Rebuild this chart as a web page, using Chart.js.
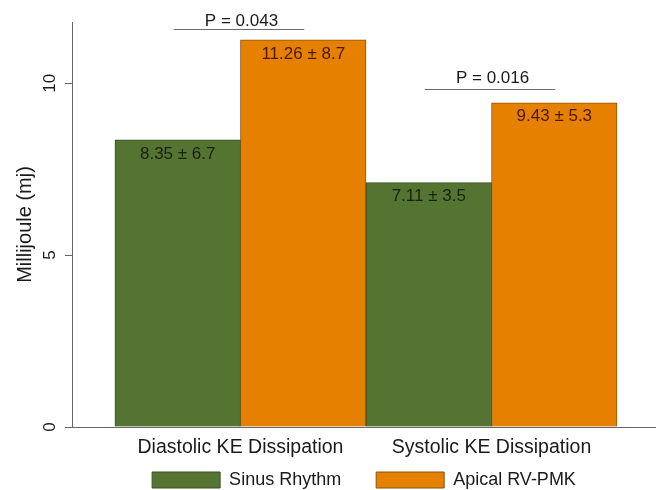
<!DOCTYPE html>
<html>
<head>
<meta charset="utf-8">
<script src="https://cdn.jsdelivr.net/npm/chart.js@4/dist/chart.umd.min.js"></script>
<style>
  html, body { margin: 0; padding: 0; background: #fff; overflow: hidden; }
  #wrap { width: 656px; height: 490px; }
</style>
</head>
<body>
<div id="wrap"><canvas id="c" width="656" height="490"></canvas></div>
<script>
// Kinetic energy dissipation by rhythm group (mean ± SD)
const categories = ['Diastolic KE Dissipation', 'Systolic KE Dissipation'];
const seriesNames = ['Sinus Rhythm', 'Apical RV-PMK'];
const sinusMean = [8.35, 7.11];
const sinusSD = [6.7, 3.5];
const pmkMean = [11.26, 9.43];
const pmkSD = [8.7, 5.3];
const pValues = ['0.043', '0.016'];
const yTicks = [0, 5, 10];

const FONT = "'Liberation Sans', Arial, Helvetica, sans-serif";
Chart.defaults.font.family = FONT;
Chart.defaults.color = '#1a1a1a';

const toPoints = (vals) => vals.map((v, i) => ({ x: i, y: v }));
const valueText = (means, sds) => means.map((m, i) => m.toFixed(2) + ' \u00b1 ' + sds[i].toFixed(1));
const barLabels = [valueText(sinusMean, sinusSD), valueText(pmkMean, pmkSD)];

// Mean ± SD inside each bar, and the P-value bracket over each pair
const annotate = {
  id: 'annotate',
  afterDatasetsDraw(chart, args, opts) {
    const ctx = chart.ctx;
    const metas = [chart.getDatasetMeta(0), chart.getDatasetMeta(1)];
    ctx.save();
    ctx.textAlign = 'center';
    ctx.textBaseline = 'middle';
    ctx.font = '17px ' + FONT;
    metas.forEach((meta, d) => {
      meta.data.forEach((bar, i) => {
        ctx.fillStyle = opts.labelColors[d];
        ctx.fillText(barLabels[d][i], bar.x, bar.y + opts.labelInset);
      });
    });
    categories.forEach((c, i) => {
      const a = metas[0].data[i];
      const b = metas[1].data[i];
      const yLine = Math.round(Math.min(a.y, b.y) - opts.lineGap[i]) + 0.5;
      ctx.strokeStyle = '#6a6a6a';
      ctx.lineWidth = 1.2;
      ctx.beginPath();
      ctx.moveTo(a.x - 4, yLine);
      ctx.lineTo(b.x + 1, yLine);
      ctx.stroke();
      ctx.fillStyle = '#1a1a1a';
      ctx.fillText('P = ' + pValues[i], (a.x + b.x) / 2 + 1, yLine - opts.textGap[i]);
    });
    ctx.restore();
  }
};

new Chart(document.getElementById('c'), {
  type: 'bar',
  data: {
    datasets: [
      {
        label: seriesNames[0],
        data: toPoints(sinusMean),
        backgroundColor: '#567431',
        borderColor: '#3b4f22',
        borderWidth: 1
      },
      {
        label: seriesNames[1],
        data: toPoints(pmkMean),
        backgroundColor: '#E58000',
        borderColor: '#8a5212',
        borderWidth: 1
      }
    ]
  },
  options: {
    responsive: false,
    animation: false,
    devicePixelRatio: 1,
    events: [],
    categoryPercentage: 1,
    barPercentage: 1,
    layout: { padding: { top: 22, right: 0, bottom: -9, left: 0 } },
    scales: {
      x: {
        type: 'linear',
        min: -0.671,
        max: 1.655,
        offset: false,
        grid: { display: false },
        border: { display: true, color: '#666', width: 1 },
        ticks: {
          mirror: true,
          padding: -32.7,
          maxRotation: 0,
          font: { size: 19.5 },
          color: '#1a1a1a',
          callback: (v, i) => categories[i]
        },
        afterBuildTicks: (s) => { s.ticks = categories.map((_, i) => ({ value: i })); },
        afterFit: (s) => { s.height = 9; }
      },
      y: {
        min: 0,
        max: 11.78,
        grid: { drawOnChartArea: false, drawTicks: true, tickLength: 7, color: '#666', tickColor: '#666' },
        border: { display: true, color: '#666', width: 1 },
        ticks: {
          minRotation: 90,
          maxRotation: 90,
          crossAlign: 'center',
          padding: 5,
          font: { size: 17 },
          color: '#1a1a1a'
        },
        afterBuildTicks: (s) => { s.ticks = yTicks.map((v) => ({ value: v })); },
        afterFit: (s) => { s.width = 72; },
        title: {
          display: true,
          text: 'Millijoule (mj)',
          font: { size: 20 },
          color: '#1a1a1a',
          padding: { top: 13, bottom: 0 }
        }
      }
    },
    plugins: {
      legend: {
        position: 'bottom',
        fullSize: false,
        labels: { boxWidth: 68, boxHeight: 16, padding: 35, font: { size: 18 }, color: '#1a1a1a' }
      },
      tooltip: { enabled: false },
      annotate: {
        labelColors: ['#17220d', '#4a1804'],
        labelInset: 14,
        lineGap: [11, 14],
        textGap: [8, 11]
      }
    }
  },
  plugins: [annotate]
});
</script>
</body>
</html>
